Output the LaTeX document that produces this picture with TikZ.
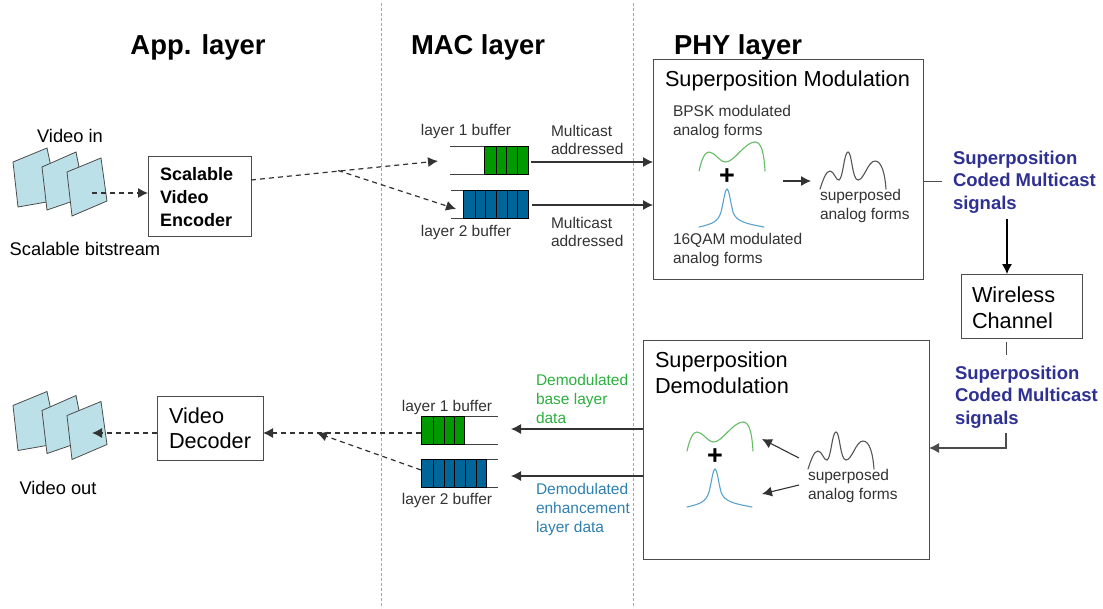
\documentclass[tikz,border=0pt]{standalone}
\usepackage{fontspec}
\setmainfont{Liberation Sans}
\usetikzlibrary{arrows.meta}
\definecolor{pagefill}{HTML}{BCE0E8}
\definecolor{bufgreen}{HTML}{009900}
\definecolor{bufblue}{HTML}{006699}
\definecolor{txtgreen}{HTML}{2DB040}
\definecolor{txtblue}{HTML}{2F80B0}
\definecolor{sigblue}{HTML}{2E3192}
\definecolor{curvegreen}{HTML}{66BB66}
\definecolor{curveblue}{HTML}{5BA3CC}
\definecolor{curvegray}{HTML}{555555}
\definecolor{labelgray}{HTML}{333333}
\tikzset{
  x=1pt,y=-1pt,
  lbl/.style={inner sep=0pt,outer sep=0pt,align=left,text=labelgray},
  small/.style={lbl,font=\fontsize{15.5}{18.6}\selectfont},
  mid/.style={lbl,text=black,font=\fontsize{18.3}{23}\selectfont},
  big/.style={lbl,text=black,font=\fontsize{21.7}{26}\selectfont},
  head/.style={lbl,text=black,font=\bfseries\fontsize{27.4}{30}\selectfont},
  sig/.style={lbl,text=sigblue,font=\bfseries\fontsize{18.5}{22.5}\selectfont},
  enc/.style={lbl,text=black,font=\bfseries\fontsize{18}{23}\selectfont},
  box/.style={draw=black!70,line width=.9pt,fill=white,inner sep=0pt,outer sep=0pt},
  vpage/.style={draw=black!70,fill=pagefill,line width=.8pt},
  sep/.style={draw=black!35,densely dashed,line width=.7pt},
  flow/.style={draw=black!80,line width=1.1pt,-{Latex[length=10pt,width=10pt]}},
  plain/.style={draw=black!70,line width=.9pt},
  dflow/.style={draw=black!80,line width=1.2pt,dash pattern=on 5pt off 4pt,-{Latex[length=10pt,width=10pt]}},
  bufline/.style={draw=black!75,line width=1pt},
  cellg/.style={draw=black,fill=bufgreen,line width=.8pt},
  cellb/.style={draw=black,fill=bufblue,line width=.8pt},
  wave/.style={line width=1.1pt,line cap=round},
  plus/.style={inner sep=0pt,font=\bfseries\fontsize{27}{27}\selectfont},
}
\newcommand{\wavegreen}[2]{\draw[wave,curvegreen,shift={(#1,#2)}] (699,171) .. controls (702,158) and (705,152) .. (709,152) .. controls (715,152) and (719,162) .. (726,162) .. controls (734,162) and (745,142) .. (755,142) .. controls (762,142) and (764,155) .. (765,171);}
\newcommand{\waveblue}[2]{\draw[wave,curveblue,shift={(#1,#2)}] (699,227) .. controls (712,224) and (718,222) .. (721,212) .. controls (724,200) and (725,189) .. (727,189) .. controls (729,189) and (730,200) .. (733,212) .. controls (736,222) and (748,224) .. (764,227);}
\newcommand{\wavegray}[2]{\draw[wave,curvegray,shift={(#1,#2)}] (820,189) .. controls (823,180) and (826,171) .. (830,171) .. controls (834,171) and (836,181) .. (839,180) .. controls (843,179) and (844,152) .. (848,152) .. controls (852,152) and (852,180) .. (858,180) .. controls (864,180) and (868,161) .. (875,161) .. controls (882,161) and (885,175) .. (886,189);}
\newcommand{\pages}[1]{\begin{scope}[shift={(0,#1)}]
\draw[vpage] (13,162) -- (47,148) -- (58,200) -- (18,207) -- cycle;
\draw[vpage] (42,167) -- (76,152) -- (85,197) -- (47,210) -- cycle;
\draw[vpage] (67,172) -- (101,158) -- (107,201) -- (72,216) -- cycle;
\end{scope}}
\begin{document}
\begin{tikzpicture}
\useasboundingbox (0,0) rectangle (1103,608);
\fill[white] (0,0) rectangle (1103,608);
% separators
\coordinate (s1t) at (381,3); \coordinate (s1b) at (381,608);
\coordinate (s2t) at (633,3); \coordinate (s2b) at (633,608);
\draw[sep] (s1t) -- (s1b);
\draw[sep] (s2t) -- (s2b);
% headings
\node[head] (happ) at (198,47.5) {App. layer};
\node[head] (hmac) at (478,47.5) {MAC layer};
\node[head] (hphy) at (738,47.5) {PHY layer};
% video pages
\pages{0}
\pages{243.5}
\node[mid] (vin) at (70,136) {Video in};
\node[mid] (sbs) at (85,249) {Scalable bitstream};
\node[mid] (vout) at (58,488) {Video out};
\coordinate (vinc) at (92,193);
\coordinate (voutc) at (92,433);
% encoder / decoder
\node[box,minimum width=103pt,minimum height=80pt] (enc) at (199.5,196) {};
\node[enc,anchor=west] (enct) at (160,197) {Scalable\\Video\\Encoder};
\node[box,minimum width=106pt,minimum height=64pt] (dec) at (210,428) {};
\node[lbl,text=black,font=\fontsize{21.7}{25.5}\selectfont,anchor=west] (dect) at (169,428) {Video\\Decoder};
\coordinate (encin) at (enc.west |- vinc);
\coordinate (decout) at (dec.east |- voutc);
\coordinate (decin) at (dec.west |- voutc);
\draw[dflow] (vinc) -- (encin);
% buffers top
\coordinate (b1l) at (450,146); \coordinate (b1r) at (484,146);
\coordinate (b1lb) at (450,174); \coordinate (b1rb) at (484,174);
\draw[bufline] (b1l) -- (b1r); \draw[bufline] (b1lb) -- (b1rb);
\foreach \a/\b in {484/496,496/506,506/517,517/528} \draw[cellg] (\a,146) rectangle (\b,174);
\coordinate (b2l) at (451,190); \coordinate (b2r) at (463,190);
\coordinate (b2lb) at (451,218); \coordinate (b2rb) at (463,218);
\draw[bufline] (b2l) -- (b2r); \draw[bufline] (b2lb) -- (b2rb);
\foreach \a/\b in {463/475,475/485,485/496,496/507,507/517,517/528} \draw[cellb] (\a,190) rectangle (\b,218);
\node[small] (l1t) at (466,131.5) {layer 1 buffer};
\node[small] (l2t) at (466,232.5) {layer 2 buffer};
\node[small,anchor=west] (ma1) at (551,140) {Multicast\\addressed};
\node[small,anchor=west] (ma2) at (551,232) {Multicast\\addressed};
% encoder to buffers
\coordinate (encout) at (251,180);
\coordinate (t1) at (438,161);
\coordinate (fork) at (338,170.5);
\coordinate (t2) at (456,209);
\draw[dflow] (encout) -- (t1);
\draw[dflow] (fork) -- (t2);
% modulation box
\node[box,minimum width=270pt,minimum height=220pt,anchor=north west] (mod) at (653,59) {};
\node[big,anchor=west] (modt) at (665,81) {Superposition Modulation};
\node[small,anchor=west] (bpsk) at (673,122) {BPSK modulated\\analog forms};
\node[small,anchor=west] (qam) at (673,250) {16QAM modulated\\analog forms};
\node[small,anchor=west] (sup1) at (820,206) {superposed\\analog forms};
\wavegreen{0}{0}
\waveblue{0}{0}
\wavegray{0}{0}
\node[plus] (p1) at (727,177) {+};
\coordinate (ma) at (783,181); \coordinate (mb) at (811,181);
\draw[flow] (ma) -- (mb);
\coordinate (q1a) at (531,162); \coordinate (q1b) at (mod.west |- q1a);
\coordinate (q2a) at (532,205); \coordinate (q2b) at (mod.west |- q2a);
\draw[flow] (q1a) -- (q1b);
\draw[flow] (q2a) -- (q2b);
% wireless
\node[box,minimum width=121pt,minimum height=64pt] (wc) at (1021.5,306) {};
\node[lbl,text=black,font=\fontsize{21.7}{26}\selectfont,anchor=west] (wct) at (972,308) {Wireless\\Channel};
\node[sig,anchor=west] (sg1) at (953,182) {Superposition\\Coded Multicast\\signals};
\node[sig,anchor=west] (sg2) at (955,397) {Superposition\\Coded Multicast\\signals};
\coordinate (sga) at (942,181);
\draw[plain] (mod.east |- sga) -- (sga);
\coordinate (wa) at (1007,219);
\draw[draw=black,line width=1.1pt,-{Latex[length=10pt,width=10pt]}] (wa) -- (wa |- wc.north);
\coordinate (wb) at (1006,342); \coordinate (wc2) at (1006,355);
\draw[plain] (wb) -- (wc2);
% demodulation box
\node[box,minimum width=286pt,minimum height=219pt,anchor=north west] (dem) at (643,340) {};
\node[big,anchor=west] (demt) at (655,373) {Superposition\\Demodulation};
\wavegreen{-12}{280}
\waveblue{-12}{280}
\wavegray{-12}{280}
\node[plus] (p2) at (715,457) {+};
\node[small,anchor=west] (sup2) at (808,486) {superposed\\analog forms};
\coordinate (da1) at (799,458); \coordinate (db1) at (762,439);
\coordinate (da2) at (799,485); \coordinate (db2) at (762,494);
\draw[flow] (da1) -- (db1);
\draw[flow] (da2) -- (db2);
\coordinate (wd) at (1006,433); \coordinate (we) at (1006,448);
\draw[draw=black!70,line width=1.1pt,-{Latex[length=10pt,width=10pt]}] (wd) -- (we) -- (dem.east |- we);
% buffers bottom
\coordinate (c1r) at (498,416); \coordinate (c1l) at (464,416);
\coordinate (c1rb) at (498,444); \coordinate (c1lb) at (464,444);
\draw[bufline] (c1l) -- (c1r); \draw[bufline] (c1lb) -- (c1rb);
\foreach \a/\b in {421/433,433/444,444/454,454/464} \draw[cellg] (\a,416) rectangle (\b,444);
\coordinate (c2r) at (498,459); \coordinate (c2l) at (486,459);
\coordinate (c2rb) at (498,487); \coordinate (c2lb) at (486,487);
\draw[bufline] (c2l) -- (c2r); \draw[bufline] (c2lb) -- (c2rb);
\foreach \a/\b in {421/433,433/444,444/454,454/465,465/476,476/486} \draw[cellb] (\a,459) rectangle (\b,487);
\node[small] (l3t) at (447,407.5) {layer 1 buffer};
\node[small] (l4t) at (447,500.5) {layer 2 buffer};
\node[small,text=txtgreen,anchor=west] (dg) at (536,399) {Demodulated\\base layer\\data};
\node[small,text=txtblue,anchor=west] (db) at (536,509.5) {Demodulated\\enhancement\\layer data};
\coordinate (ra1) at (511,429); \coordinate (ra2) at (511,476);
\draw[flow] (dem.west |- ra1) -- (ra1);
\draw[flow] (dem.west |- ra2) -- (ra2);
% dashed to decoder
\coordinate (e1) at (421,433);
\coordinate (e2) at (421,470);
\coordinate (e3) at (317,433);
\draw[dflow] (e1) -- (decout);
\draw[dflow] (e2) -- (e3);
\draw[dflow] (decin) -- (voutc);
\end{tikzpicture}
\end{document}
